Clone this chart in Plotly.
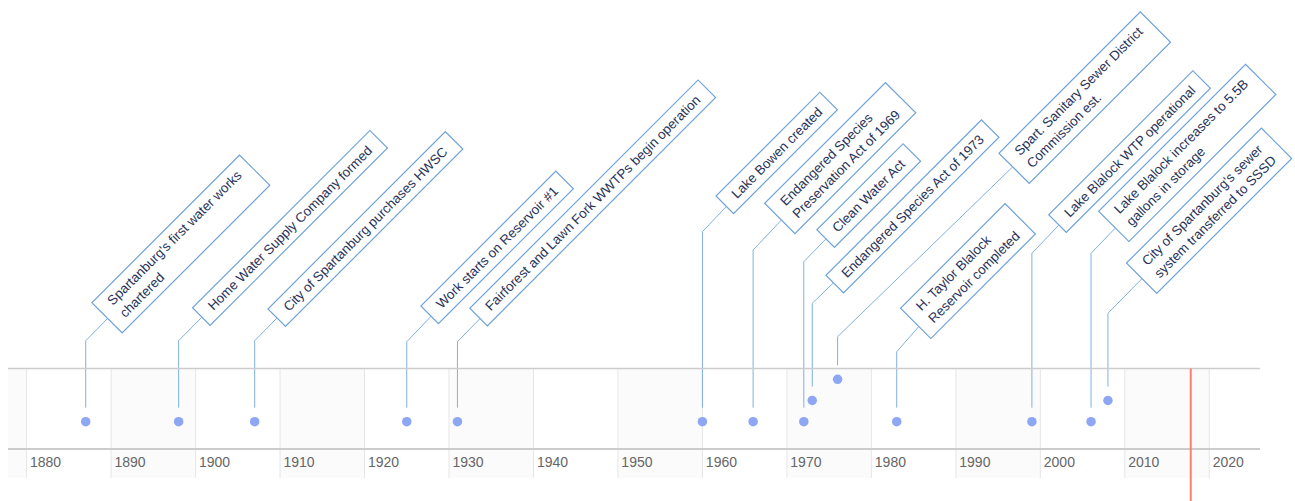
import plotly.graph_objects as go

# ---------------- data ----------------
YEARS = [1887, 1898, 1907, 1925, 1931, 1960, 1966, 1972, 1973, 1976, 1983, 1999, 2006, 2008]
LEVELS = [0, 0, 0, 0, 0, 0, 0, 0, 1, 2, 0, 0, 0, 1]
EVENTS = [
    ["Spartanburg's first water works", "chartered"],
    ["Home Water Supply Company formed"],
    ["City of Spartanburg purchases HWSC"],
    ["Work starts on Reservoir #1"],
    ["Fairforest and Lawn Fork WWTPs begin operation"],
    ["Lake Bowen created"],
    ["Endangered Species", "Preservation Act of 1969"],
    ["Clean Water Act"],
    ["Endangered Species Act of 1973"],
    ["Spart. Sanitary Sewer District", "Commission est."],
    ["H. Taylor Blalock", "Reservoir completed"],
    ["Lake Blalock WTP operational"],
    ["Lake Blalock increases to 5.5B", "gallons in storage"],
    ["City of Spartanburg's sewer", "system transferred to SSSD"],
]
TICK_YEARS = [1880, 1890, 1900, 1910, 1920, 1930, 1940, 1950, 1960, 1970, 1980, 1990, 2000, 2010, 2020]
TICK_LABELS = ["1880", "1890", "1900", "1910", "1920", "1930", "1940", "1950", "1960", "1970",
               "1980", "1990", "2000", "2010", "2020"]
TODAY = 2017.8

# ---------------- layout / styling ----------------
W, H = 1295, 501
M_L, M_R, M_T, M_B = 8, 35, 0, 53
PLOT_H = H - M_T - M_B
BASE_PX = 421.7          # pixel row (from top) of level 0
LEVEL_PX = 21.2          # pixels between levels
X_RANGE = [1877.8, 2026.0]
BAND_TOP_PX = 368.5
BAND_BOTTOM_PX = 478
STEM_GAP_PX = 14
# pixel row of the bend of each connector, and label-centre offsets (px)
STEM_TOP_PX = [340.7, 340.7, 340.7, 341.7, 341.7, 231.7, 250.0, 261.7, 303.3, 336.7,
               351.7, 253.3, 253.3, 313.3]
LABEL_OFFSETS = [(95.2, -96.5), (111.3, -112.7), (110.5, -112.2), (90.7, -94.7),
                 (135.3, -138.4), (74.3, -78.4), (87.1, -92.2), (64.3, -66.2),
                 (100.6, -97.1), (246.6, -239.2), (71.1, -81.2), (97.1, -101.6),
                 (96.2, -100.0), (100.8, -102.5)]

DOT_C = "#8ea7f4"
LINE_C = "#7fb0e2"
BOX_C = "#6fa2d9"
TEXT_C = "#28335a"
FONT = "Liberation Sans, Arial, sans-serif"


def px_to_y(px):
    return (BASE_PX - px) / LEVEL_PX


def px_to_paper(px):
    return (PLOT_H - px) / PLOT_H


fig = go.Figure()

# connector stems
sx, sy = [], []
for yr, lv, top in zip(YEARS, LEVELS, STEM_TOP_PX):
    sx += [yr, yr, None]
    sy += [lv + STEM_GAP_PX / LEVEL_PX, px_to_y(top), None]
fig.add_trace(go.Scatter(x=sx, y=sy, mode="lines", line=dict(color=LINE_C, width=1),
                         hoverinfo="skip", showlegend=False))

# points
fig.add_trace(go.Scatter(x=YEARS, y=LEVELS, mode="markers",
                         marker=dict(size=9.5, color=DOT_C, line=dict(width=0)),
                         text=[" ".join(e) for e in EVENTS], hoverinfo="x+text",
                         showlegend=False))

PAD = "\u00a0\u00a0"
annotations = []
for yr, lines, top, (ax, ay) in zip(YEARS, EVENTS, STEM_TOP_PX, LABEL_OFFSETS):
    txt = "<br>".join(PAD + ln + PAD for ln in lines)
    annotations.append(dict(
        x=yr, y=px_to_y(top), xref="x", yref="y",
        ax=ax, ay=ay, axref="pixel", ayref="pixel",
        showarrow=True, arrowhead=0, arrowwidth=1, arrowcolor=LINE_C,
        standoff=0, startstandoff=0,
        text=txt, textangle=-45, align="left",
        font=dict(family=FONT, size=13.4, color=TEXT_C),
        bgcolor="white", bordercolor=BOX_C, borderwidth=1.2, borderpad=4.5,
    ))

shapes = []
y_band0 = px_to_paper(BAND_BOTTOM_PX)
y_band1 = px_to_paper(BAND_TOP_PX)
# alternate decade shading
for d in range(1870, 2030, 20):
    shapes.append(dict(type="rect", xref="x", yref="paper", x0=d, x1=d + 10,
                       y0=y_band0, y1=y_band1, fillcolor="#fbfbfb",
                       line=dict(width=0), layer="below"))
# grid lines
for t in TICK_YEARS:
    shapes.append(dict(type="line", xref="x", yref="paper", x0=t, x1=t,
                       y0=y_band0, y1=y_band1, line=dict(color="#e6e6e6", width=1),
                       layer="below"))
# top frame line
shapes.append(dict(type="line", xref="paper", yref="paper", x0=0, x1=1,
                   y0=y_band1, y1=y_band1, line=dict(color="#cccccc", width=1.5)))
# today line
shapes.append(dict(type="line", xref="x", yref="paper", x0=TODAY, x1=TODAY,
                   y0=px_to_paper(H), y1=y_band1, line=dict(color="#fa7f6e", width=2)))

fig.update_layout(
    width=W, height=H,
    margin=dict(l=M_L, r=M_R, t=M_T, b=M_B),
    paper_bgcolor="white", plot_bgcolor="rgba(0,0,0,0)",
    annotations=annotations, shapes=shapes,
    xaxis=dict(range=X_RANGE, showgrid=False, zeroline=False,
               showline=True, linecolor="#cccccc", linewidth=1.5,
               tickmode="array", tickvals=TICK_YEARS, ticktext=TICK_LABELS,
               ticks="", ticklabelshift=19,
               tickfont=dict(family=FONT, size=14, color="#666666")),
    yaxis=dict(range=[px_to_y(PLOT_H), px_to_y(0)], visible=False, showgrid=False,
               zeroline=False),
    hovermode="closest",
)

fig.write_html("out.html", config={"displayModeBar": False},
               post_script="document.body.style.margin='0';")
